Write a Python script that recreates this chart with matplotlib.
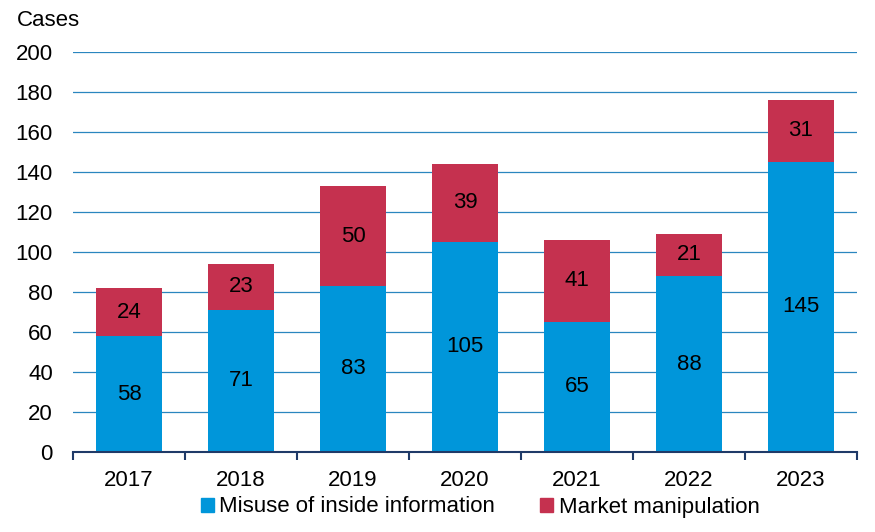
import matplotlib
matplotlib.use("Agg")
import matplotlib.pyplot as plt
from matplotlib.patches import Patch

years = ["2017", "2018", "2019", "2020", "2021", "2022", "2023"]
inside = [58, 71, 83, 105, 65, 88, 145]
manip = [24, 23, 50, 39, 41, 21, 31]
yticks = [0, 20, 40, 60, 80, 100, 120, 140, 160, 180, 200]

blue = "#0096DA"
red = "#C5314F"
navy = "#1F3A68"
grid = "#2A86BF"

plt.rcParams['font.family'] = ['Liberation Sans', 'DejaVu Sans']
fs = 16

fig = plt.figure(figsize=(8.75, 5.32), dpi=100)
ax = fig.add_axes([73/875, 1-452/532, 784/875, 400/532])

x = list(range(len(years)))
w = 0.59
ax.bar(x, inside, w, color=blue, zorder=3)
ax.bar(x, manip, w, bottom=inside, color=red, zorder=3)
for i in x:
    ax.text(i, inside[i]/2, str(inside[i]), ha='center', va='center', fontsize=fs, color='black', zorder=4)
    ax.text(i, inside[i] + manip[i]/2, str(manip[i]), ha='center', va='center', fontsize=fs, color='black', zorder=4)

ax.set_xlim(-0.5, len(years)-0.5)
ax.set_ylim(0, 200)
ax.set_yticks(yticks)
ax.set_yticklabels([str(t) for t in yticks], fontsize=fs)
ax.yaxis.grid(True, color=grid, linewidth=0.9, zorder=0)
ax.tick_params(axis='y', length=0, pad=14.5)
ax.set_xticks(x)
ax.set_xticklabels(years, fontsize=fs)
ax.tick_params(axis='x', length=0, pad=13)
ax.set_xticks([i - 0.5 for i in range(len(years)+1)], minor=True)
ax.tick_params(axis='x', which='minor', length=6, width=1.5, color=navy, direction='out')
for s in ['top', 'right', 'left']:
    ax.spines[s].set_visible(False)
ax.spines['bottom'].set_color(navy)
ax.spines['bottom'].set_linewidth(1.5)
ax.spines['bottom'].set_zorder(5)

fig.text(17/875, 1-20/532, "Cases", fontsize=fs, ha='left', va='center')

handles = [Patch(color=blue, label="Misuse of inside information"),
           Patch(color=red, label="Market manipulation")]
fig.legend(handles=handles, loc='center', bbox_to_anchor=(480/875, 1-507/532), ncol=2,
           frameon=False, fontsize=fs, handlelength=0.6, handleheight=0.6,
           handletextpad=0.25, columnspacing=2.0)

fig.savefig("out.png", dpi=100)
